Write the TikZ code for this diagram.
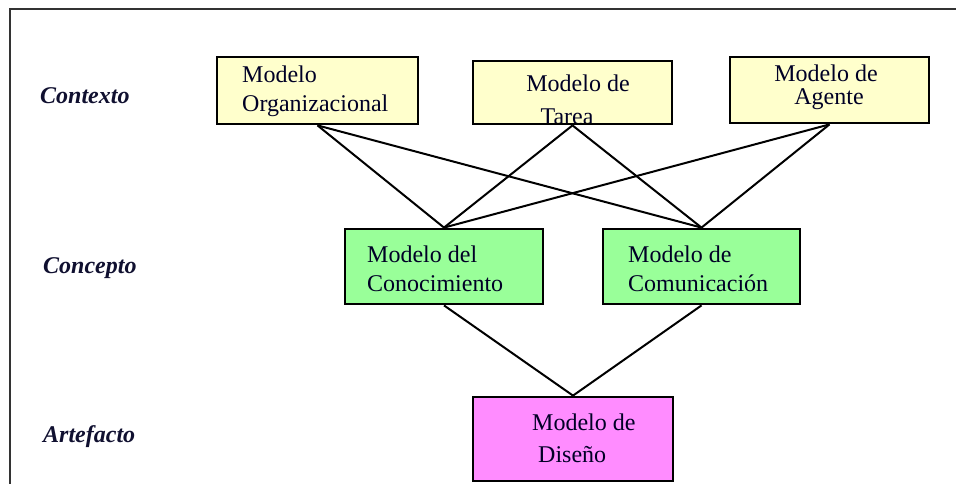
\documentclass[tikz,border=0pt]{standalone}
\usepackage{fontspec}
\setmainfont{Liberation Serif}
\definecolor{boxyellow}{HTML}{FFFFCC}
\definecolor{boxgreen}{HTML}{99FF99}
\definecolor{boxpink}{HTML}{FF8CFF}
\definecolor{framegray}{HTML}{333333}
\definecolor{labelnavy}{HTML}{101030}
\begin{document}
\begin{tikzpicture}[x=1pt,y=-1pt,
  modelbox/.style={draw=black,line width=2.8pt,rectangle,inner sep=0pt},
  boxtext/.style={inner sep=0pt,font=\fontsize{24}{29}\selectfont,text=black!85!blue},
  levellabel/.style={inner sep=0pt,anchor=base west,font=\fontsize{24}{29}\selectfont\bfseries\itshape,text=labelnavy},
  link/.style={draw=black,line width=2pt}]
\useasboundingbox (0,0) rectangle (956,484);
\fill[white] (0,0) rectangle (956,484);
% frame
\draw[framegray,line width=1.8pt] (10,490) -- (10,9) -- (960,9);

% boxes
\node[modelbox,fill=boxyellow,minimum width=201pt,minimum height=67pt] (org) at (317.5,90.5) {};
\node[modelbox,fill=boxyellow,minimum width=199pt,minimum height=63pt] (tar) at (572.5,92.5) {};
\node[modelbox,fill=boxyellow,minimum width=199pt,minimum height=66pt] (age) at (829.5,90) {};
\node[modelbox,fill=boxgreen,minimum width=198pt,minimum height=75pt] (kno) at (444,266.5) {};
\node[modelbox,fill=boxgreen,minimum width=197pt,minimum height=75pt] (com) at (701.5,266.5) {};
\node[modelbox,fill=boxpink,minimum width=200pt,minimum height=84pt] (dis) at (573,439) {};

% connectors
\draw[link] (org.south) -- (kno.north);
\draw[link] (org.south) -- (com.north);
\draw[link] (tar.south) -- (kno.north);
\draw[link] (tar.south) -- (com.north);
\draw[link] (age.south) -- (kno.north);
\draw[link] (age.south) -- (com.north);
\draw[link] (kno.south) -- (dis.north);
\draw[link] (com.south) -- (dis.north);

% box texts
\node[boxtext,anchor=base west] (orgA) at (242,83) {Modelo};
\node[boxtext,anchor=base west] (orgB) at (242,112) {Organizacional};
\node[boxtext,anchor=base] (tarA) at (578,92) {Modelo de};
\begin{scope}
  \clip (474,62) rectangle (671,122.5);
  \node[boxtext,anchor=base] (tarB) at (567,125) {Tarea};
\end{scope}
\node[boxtext,anchor=base] (ageA) at (826,82) {Modelo de};
\node[boxtext,anchor=base] (ageB) at (829,105) {Agente};
\node[boxtext,anchor=base west] (knoA) at (367,262) {Modelo del};
\node[boxtext,anchor=base west] (knoB) at (367,291) {Conocimiento};
\node[boxtext,anchor=base west] (comA) at (628,262) {Modelo de};
\node[boxtext,anchor=base west] (comB) at (628,291) {Comunicación};
\node[boxtext,anchor=base west] (disA) at (532,430) {Modelo de};
\node[boxtext,anchor=base west] (disB) at (538,462) {Diseño};

% level labels
\node[levellabel] (lctx) at (40,104) {Contexto};
\node[levellabel] (lcon) at (43,273) {Concepto};
\node[levellabel] (lart) at (43,442) {Artefacto};
\end{tikzpicture}
\end{document}
